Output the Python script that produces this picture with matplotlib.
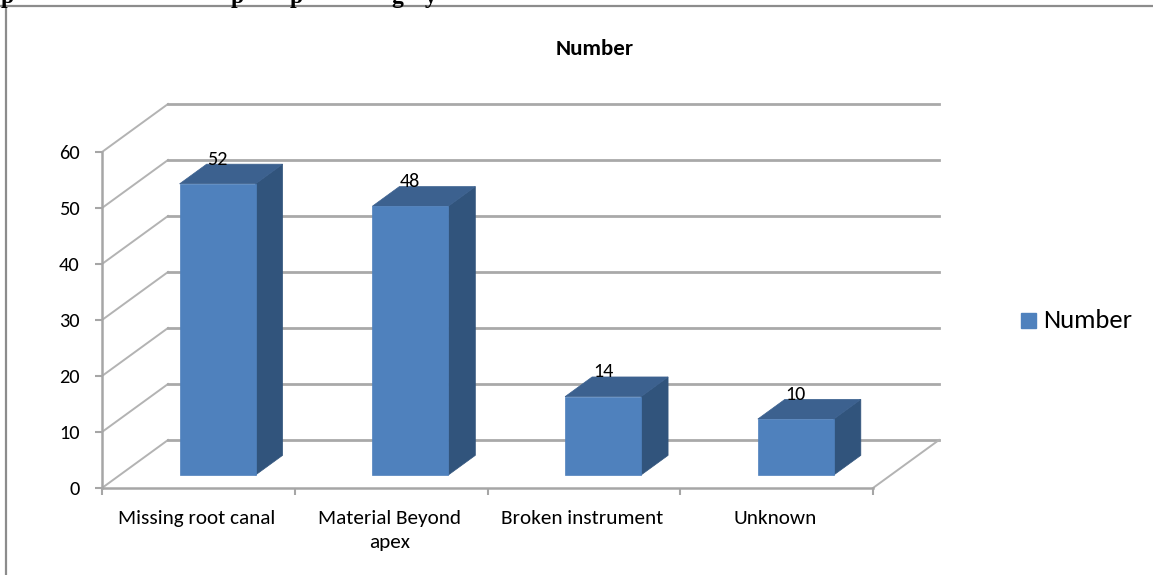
import numpy as np
import matplotlib
matplotlib.use('Agg')
import matplotlib.pyplot as plt
from matplotlib.patches import Polygon

plt.rcParams['font.family'] = ['Carlito', 'Open Sans', 'DejaVu Sans']

# data
categories = ['Missing root canal', 'Material Beyond\napex', 'Broken instrument', 'Unknown']
values = [52, 48, 14, 10]
yticks = [0, 10, 20, 30, 40, 50, 60]
series_name = 'Number'

W, H = 1153, 575
fig = plt.figure(figsize=(W/100, H/100), dpi=100)

# outer chart frame, runs off the right and bottom edge
bg = fig.add_axes([0, 0, 1, 1])
bg.set_xlim(0, W)
bg.set_ylim(H, 0)
bg.axis('off')
bg.plot([6, 6, W], [H, 5.5, 5.5], color='#8c8c8c', lw=1.6)

# tails of the line of text above the chart
for c, px in zip(['p', 'p', 'p', 'g', 'y'], [7, 237, 296, 397, 431]):
    bg.text(px, 3.5, c, family='Liberation Serif', weight='bold', fontsize=17,
            ha='center', va='baseline')
bg.add_patch(plt.Rectangle((0, 5), 6, 1, color='#8c8c8c'))

# front plane of the 3d box
ax = fig.add_axes([102/W, 1-488/H, 771/W, 336/H])
ax.set_xlim(0, 4)
ax.set_ylim(0, 60)
ax.patch.set_alpha(0)
for s in ['top', 'right']:
    ax.spines[s].set_visible(False)
for s in ['left', 'bottom']:
    ax.spines[s].set_color('#a6a6a6')
    ax.spines[s].set_linewidth(1.8)

# depth offset of the back wall, in data units
DX = 66/771*4
DY = 48/336*60

def pt(x, v, d):
    return (x + d*DX, v + d*DY)

GRID = '#a9a9a9'
for v in yticks:
    p0, p1, p2 = pt(0, v, 0), pt(0, v, 1), pt(4, v, 1)
    ax.plot([p0[0], p1[0]], [p0[1], p1[1]], color='#b3b3b3', lw=1.4, clip_on=False, zorder=1)
    ax.plot([p1[0], p2[0]], [p1[1], p2[1]], color=GRID, lw=2.0, clip_on=False, zorder=1)
# floor, right side
p0, p1 = pt(4, 0, 0), pt(4, 0, 1)
ax.plot([p0[0], p1[0]], [p0[1], p1[1]], color='#b3b3b3', lw=1.4, clip_on=False, zorder=1)

# bars
FRONT = '#4f81bd'
TOP = '#3c618f'
SIDE = '#31547c'
bar_w = 0.394
d0, d1 = 0.27, 0.68
for i, v in enumerate(values):
    x0 = i + 0.31
    x1 = x0 + bar_w
    ax.add_patch(Polygon([pt(x1, 0, d0), pt(x1, 0, d1), pt(x1, v, d1), pt(x1, v, d0)],
                         fc=SIDE, ec=SIDE, lw=0.5, clip_on=False, zorder=3))
    ax.add_patch(Polygon([pt(x0, v, d0), pt(x1, v, d0), pt(x1, v, d1), pt(x0, v, d1)],
                         fc=TOP, ec=TOP, lw=0.5, clip_on=False, zorder=3))
    ax.add_patch(Polygon([pt(x0, 0, d0), pt(x1, 0, d0), pt(x1, v, d0), pt(x0, v, d0)],
                         fc=FRONT, ec=FRONT, lw=0.5, clip_on=False, zorder=4))
    # value sits over the front face, on the back edge of the top
    lx = pt((x0 + x1)/2, v, d0)[0]
    ly = pt(x0, v, d1)[1]
    ax.text(lx, ly + 0.9, str(v), ha='center', va='center', fontsize=14.5, color='black', zorder=5)

ax.set_xticks(range(5))
ax.set_xticklabels([])
ax.set_yticks(yticks)
ax.tick_params(axis='both', color='#a6a6a6', width=1.5, length=5)
ax.tick_params(axis='y', labelsize=14.7, pad=11)
ax.tick_params(axis='x', direction='out')

# category labels sit a little left of the tick centres
for i, c in enumerate(categories):
    ax.text(i + 0.49, -3.9, c, ha='center', va='top', fontsize=15.3, linespacing=1.5)

fig.text(595/W, 1-49/H, series_name, ha='center', va='center', fontsize=16.5, fontweight='bold')

# legend
bg.add_patch(plt.Rectangle((1021, 313), 15, 15, color=FRONT))
bg.text(1043, 320.5, series_name, va='center', ha='left', fontsize=19.2)

fig.savefig('out.png', dpi=100)
